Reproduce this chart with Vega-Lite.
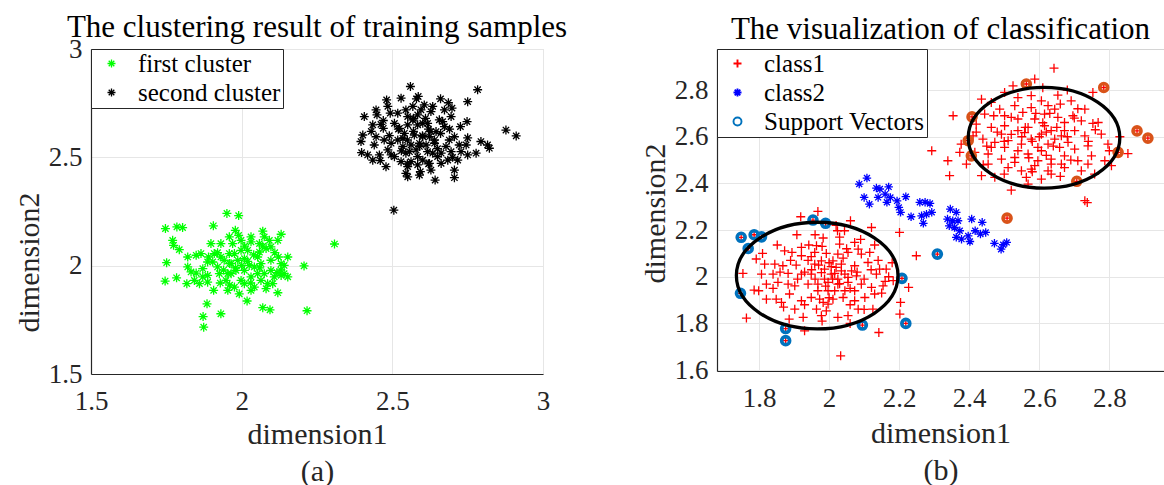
{
  "$schema": "https://vega.github.io/schema/vega-lite/v6.json",
  "padding": {"left": 13, "top": 11, "right": 0, "bottom": 0},
  "bounds": "flush",
  "spacing": 174,
  "resolve": {
    "scale": {"color": "independent", "shape": "independent", "x": "independent", "y": "independent"},
    "legend": {"color": "independent", "shape": "independent"}
  },
  "config": {
    "font": "Liberation Serif",
    "view": {"stroke": "#d4d4d4"},
    "title": {"font": "Liberation Serif", "fontSize": 31, "fontWeight": "normal", "color": "#000000", "anchor": "middle"},
    "axis": {
      "labelFont": "Liberation Serif", "labelFontSize": 27, "labelColor": "#262626",
      "titleFont": "Liberation Serif", "titleFontSize": 30, "titleFontWeight": "normal", "titleColor": "#262626",
      "grid": true, "gridColor": "#e6e6e6", "gridWidth": 1,
      "domainColor": "#262626", "domainWidth": 1.2,
      "ticks": false, "labelFlush": false, "labelOverlap": false, "format": "~g"
    },
    "axisX": {"labelPadding": 14, "titleBaseline": "top", "titleLineHeight": 37, "titleAlign": "center"},
    "axisY": {"labelPadding": 9, "titleBaseline": "middle", "titleAngle": 270, "titleAlign": "center"},
    "legend": {
      "orient": "top-left", "offset": 0, "padding": 2, "rowPadding": 3,
      "strokeColor": "#262626", "fillColor": "#ffffff",
      "labelFont": "Liberation Serif", "labelFontSize": 25, "labelColor": "#000000", "labelLimit": 400,
      "symbolOffset": 6, "labelOffset": 14, "symbolSize": 64, "symbolStrokeWidth": 1.3
    }
  },
  "hconcat": [
    {
      "width": 452,
      "height": 325,
      "title": {"text": "The clustering result of training samples", "offset": -9},
      "data": {"values": [
        {"cluster": "first cluster", "x": 1.951, "y": 2.241}, {"cluster": "first cluster", "x": 1.990, "y": 2.231},
        {"cluster": "first cluster", "x": 1.747, "y": 2.171}, {"cluster": "first cluster", "x": 1.785, "y": 2.179},
        {"cluster": "first cluster", "x": 1.804, "y": 2.176}, {"cluster": "first cluster", "x": 1.906, "y": 2.184},
        {"cluster": "first cluster", "x": 1.979, "y": 2.163}, {"cluster": "first cluster", "x": 1.959, "y": 2.133},
        {"cluster": "first cluster", "x": 2.070, "y": 2.159}, {"cluster": "first cluster", "x": 2.131, "y": 2.145},
        {"cluster": "first cluster", "x": 2.308, "y": 2.100}, {"cluster": "first cluster", "x": 1.771, "y": 2.117},
        {"cluster": "first cluster", "x": 1.774, "y": 2.094}, {"cluster": "first cluster", "x": 1.793, "y": 2.074},
        {"cluster": "first cluster", "x": 1.751, "y": 2.014}, {"cluster": "first cluster", "x": 1.746, "y": 1.929},
        {"cluster": "first cluster", "x": 1.784, "y": 1.944}, {"cluster": "first cluster", "x": 1.818, "y": 1.917},
        {"cluster": "first cluster", "x": 2.207, "y": 1.999}, {"cluster": "first cluster", "x": 2.120, "y": 1.875},
        {"cluster": "first cluster", "x": 2.018, "y": 1.837}, {"cluster": "first cluster", "x": 2.070, "y": 1.806},
        {"cluster": "first cluster", "x": 2.094, "y": 1.796}, {"cluster": "first cluster", "x": 2.217, "y": 1.792},
        {"cluster": "first cluster", "x": 1.885, "y": 1.824}, {"cluster": "first cluster", "x": 1.931, "y": 1.778},
        {"cluster": "first cluster", "x": 1.872, "y": 1.765}, {"cluster": "first cluster", "x": 1.874, "y": 1.716},
        {"cluster": "first cluster", "x": 1.821, "y": 2.040}, {"cluster": "first cluster", "x": 1.849, "y": 2.048},
        {"cluster": "first cluster", "x": 1.865, "y": 2.056}, {"cluster": "first cluster", "x": 1.821, "y": 1.994},
        {"cluster": "first cluster", "x": 1.849, "y": 1.966}, {"cluster": "first cluster", "x": 1.887, "y": 1.955},
        {"cluster": "first cluster", "x": 1.907, "y": 1.886}, {"cluster": "first cluster", "x": 1.887, "y": 1.924},
        {"cluster": "first cluster", "x": 1.929, "y": 1.920}, {"cluster": "first cluster", "x": 1.954, "y": 1.886},
        {"cluster": "first cluster", "x": 1.992, "y": 1.870}, {"cluster": "first cluster", "x": 2.031, "y": 1.886},
        {"cluster": "first cluster", "x": 2.081, "y": 1.894}, {"cluster": "first cluster", "x": 2.153, "y": 2.040},
        {"cluster": "first cluster", "x": 2.141, "y": 1.963}, {"cluster": "first cluster", "x": 2.122, "y": 2.040},
        {"cluster": "first cluster", "x": 2.120, "y": 2.117}, {"cluster": "first cluster", "x": 2.097, "y": 2.087},
        {"cluster": "first cluster", "x": 2.031, "y": 2.133}, {"cluster": "first cluster", "x": 2.059, "y": 2.102},
        {"cluster": "first cluster", "x": 1.898, "y": 2.102}, {"cluster": "first cluster", "x": 1.909, "y": 2.056},
        {"cluster": "first cluster", "x": 1.920, "y": 1.994}, {"cluster": "first cluster", "x": 1.954, "y": 1.963},
        {"cluster": "first cluster", "x": 1.987, "y": 2.025}, {"cluster": "first cluster", "x": 2.009, "y": 1.978},
        {"cluster": "first cluster", "x": 2.042, "y": 1.994}, {"cluster": "first cluster", "x": 2.075, "y": 1.963},
        {"cluster": "first cluster", "x": 2.097, "y": 1.978}, {"cluster": "first cluster", "x": 1.998, "y": 2.071},
        {"cluster": "first cluster", "x": 2.020, "y": 2.071}, {"cluster": "first cluster", "x": 2.053, "y": 2.040},
        {"cluster": "first cluster", "x": 1.976, "y": 2.056}, {"cluster": "first cluster", "x": 1.942, "y": 2.025},
        {"cluster": "first cluster", "x": 1.965, "y": 2.009}, {"cluster": "first cluster", "x": 2.031, "y": 1.948},
        {"cluster": "first cluster", "x": 2.064, "y": 1.932}, {"cluster": "first cluster", "x": 1.998, "y": 1.932},
        {"cluster": "first cluster", "x": 1.976, "y": 1.901}, {"cluster": "first cluster", "x": 2.086, "y": 1.917},
        {"cluster": "first cluster", "x": 2.131, "y": 2.009}, {"cluster": "first cluster", "x": 2.108, "y": 1.948},
        {"cluster": "first cluster", "x": 2.141, "y": 2.001}, {"cluster": "first cluster", "x": 1.832, "y": 1.971},
        {"cluster": "first cluster", "x": 1.871, "y": 1.986}, {"cluster": "first cluster", "x": 1.887, "y": 2.017},
        {"cluster": "first cluster", "x": 1.931, "y": 2.102}, {"cluster": "first cluster", "x": 2.031, "y": 2.110},
        {"cluster": "first cluster", "x": 2.075, "y": 2.133}, {"cluster": "first cluster", "x": 2.092, "y": 2.117},
        {"cluster": "first cluster", "x": 1.998, "y": 2.117}, {"cluster": "first cluster", "x": 1.970, "y": 2.102},
        {"cluster": "first cluster", "x": 2.059, "y": 2.063}, {"cluster": "first cluster", "x": 2.009, "y": 2.032},
        {"cluster": "first cluster", "x": 2.064, "y": 2.009}, {"cluster": "first cluster", "x": 2.025, "y": 2.001},
        {"cluster": "first cluster", "x": 1.981, "y": 1.978}, {"cluster": "first cluster", "x": 1.948, "y": 1.932},
        {"cluster": "first cluster", "x": 2.009, "y": 1.917}, {"cluster": "first cluster", "x": 2.053, "y": 1.963},
        {"cluster": "first cluster", "x": 2.042, "y": 1.901}, {"cluster": "first cluster", "x": 1.965, "y": 1.963},
        {"cluster": "first cluster", "x": 1.926, "y": 1.963}, {"cluster": "first cluster", "x": 1.871, "y": 1.948},
        {"cluster": "first cluster", "x": 1.843, "y": 1.932}, {"cluster": "first cluster", "x": 1.860, "y": 1.917},
        {"cluster": "first cluster", "x": 1.904, "y": 2.017}, {"cluster": "first cluster", "x": 1.959, "y": 2.056},
        {"cluster": "first cluster", "x": 1.931, "y": 2.040}, {"cluster": "first cluster", "x": 2.097, "y": 2.025},
        {"cluster": "first cluster", "x": 2.081, "y": 2.079}, {"cluster": "first cluster", "x": 2.117, "y": 1.968},
        {"cluster": "first cluster", "x": 2.103, "y": 1.917}, {"cluster": "first cluster", "x": 2.131, "y": 1.955},
        {"cluster": "first cluster", "x": 2.153, "y": 1.948},
        {"cluster": "first cluster", "x": 2.000, "y": 2.000}, {"cluster": "first cluster", "x": 2.020, "y": 2.020},
        {"cluster": "first cluster", "x": 1.980, "y": 1.990}, {"cluster": "first cluster", "x": 2.040, "y": 2.050},
        {"cluster": "first cluster", "x": 2.060, "y": 1.990}, {"cluster": "first cluster", "x": 1.960, "y": 2.010},
        {"cluster": "first cluster", "x": 2.010, "y": 2.090}, {"cluster": "first cluster", "x": 1.940, "y": 1.980},
        {"cluster": "first cluster", "x": 2.110, "y": 2.060}, {"cluster": "first cluster", "x": 2.070, "y": 2.090},
        {"cluster": "first cluster", "x": 1.920, "y": 2.060}, {"cluster": "first cluster", "x": 2.030, "y": 1.920},
        {"cluster": "first cluster", "x": 1.990, "y": 2.140}, {"cluster": "first cluster", "x": 2.130, "y": 1.980},
        {"cluster": "first cluster", "x": 1.890, "y": 2.040}, {"cluster": "first cluster", "x": 1.960, "y": 1.910},
        {"cluster": "second cluster", "x": 2.560, "y": 2.827}, {"cluster": "second cluster", "x": 2.783, "y": 2.812},
        {"cluster": "second cluster", "x": 2.481, "y": 2.765}, {"cluster": "second cluster", "x": 2.750, "y": 2.757},
        {"cluster": "second cluster", "x": 2.529, "y": 2.773}, {"cluster": "second cluster", "x": 2.586, "y": 2.781},
        {"cluster": "second cluster", "x": 2.446, "y": 2.719}, {"cluster": "second cluster", "x": 2.449, "y": 2.696},
        {"cluster": "second cluster", "x": 2.407, "y": 2.688}, {"cluster": "second cluster", "x": 2.493, "y": 2.704},
        {"cluster": "second cluster", "x": 2.551, "y": 2.688}, {"cluster": "second cluster", "x": 2.584, "y": 2.696},
        {"cluster": "second cluster", "x": 2.628, "y": 2.711}, {"cluster": "second cluster", "x": 2.686, "y": 2.752},
        {"cluster": "second cluster", "x": 2.698, "y": 2.727}, {"cluster": "second cluster", "x": 2.695, "y": 2.688},
        {"cluster": "second cluster", "x": 2.748, "y": 2.665}, {"cluster": "second cluster", "x": 2.726, "y": 2.642},
        {"cluster": "second cluster", "x": 2.667, "y": 2.665}, {"cluster": "second cluster", "x": 2.435, "y": 2.650},
        {"cluster": "second cluster", "x": 2.470, "y": 2.634}, {"cluster": "second cluster", "x": 2.507, "y": 2.657},
        {"cluster": "second cluster", "x": 2.551, "y": 2.650}, {"cluster": "second cluster", "x": 2.601, "y": 2.657},
        {"cluster": "second cluster", "x": 2.645, "y": 2.619}, {"cluster": "second cluster", "x": 2.877, "y": 2.626},
        {"cluster": "second cluster", "x": 2.911, "y": 2.599}, {"cluster": "second cluster", "x": 2.402, "y": 2.603},
        {"cluster": "second cluster", "x": 2.396, "y": 2.573}, {"cluster": "second cluster", "x": 2.440, "y": 2.557},
        {"cluster": "second cluster", "x": 2.398, "y": 2.522}, {"cluster": "second cluster", "x": 2.418, "y": 2.511},
        {"cluster": "second cluster", "x": 2.457, "y": 2.511}, {"cluster": "second cluster", "x": 2.460, "y": 2.485},
        {"cluster": "second cluster", "x": 2.485, "y": 2.534}, {"cluster": "second cluster", "x": 2.479, "y": 2.457},
        {"cluster": "second cluster", "x": 2.518, "y": 2.580}, {"cluster": "second cluster", "x": 2.540, "y": 2.611},
        {"cluster": "second cluster", "x": 2.573, "y": 2.603}, {"cluster": "second cluster", "x": 2.601, "y": 2.595},
        {"cluster": "second cluster", "x": 2.628, "y": 2.619}, {"cluster": "second cluster", "x": 2.507, "y": 2.503},
        {"cluster": "second cluster", "x": 2.545, "y": 2.519}, {"cluster": "second cluster", "x": 2.584, "y": 2.503},
        {"cluster": "second cluster", "x": 2.601, "y": 2.487}, {"cluster": "second cluster", "x": 2.551, "y": 2.457},
        {"cluster": "second cluster", "x": 2.545, "y": 2.426}, {"cluster": "second cluster", "x": 2.593, "y": 2.434},
        {"cluster": "second cluster", "x": 2.628, "y": 2.441}, {"cluster": "second cluster", "x": 2.642, "y": 2.395},
        {"cluster": "second cluster", "x": 2.706, "y": 2.441}, {"cluster": "second cluster", "x": 2.706, "y": 2.406},
        {"cluster": "second cluster", "x": 2.662, "y": 2.519}, {"cluster": "second cluster", "x": 2.678, "y": 2.550},
        {"cluster": "second cluster", "x": 2.684, "y": 2.487}, {"cluster": "second cluster", "x": 2.717, "y": 2.487},
        {"cluster": "second cluster", "x": 2.722, "y": 2.557}, {"cluster": "second cluster", "x": 2.745, "y": 2.557},
        {"cluster": "second cluster", "x": 2.750, "y": 2.511}, {"cluster": "second cluster", "x": 2.778, "y": 2.519},
        {"cluster": "second cluster", "x": 2.794, "y": 2.573}, {"cluster": "second cluster", "x": 2.822, "y": 2.542},
        {"cluster": "second cluster", "x": 2.816, "y": 2.557}, {"cluster": "second cluster", "x": 2.505, "y": 2.256},
        {"cluster": "second cluster", "x": 2.518, "y": 2.704}, {"cluster": "second cluster", "x": 2.568, "y": 2.735},
        {"cluster": "second cluster", "x": 2.606, "y": 2.742}, {"cluster": "second cluster", "x": 2.634, "y": 2.735},
        {"cluster": "second cluster", "x": 2.524, "y": 2.634}, {"cluster": "second cluster", "x": 2.568, "y": 2.673},
        {"cluster": "second cluster", "x": 2.584, "y": 2.650}, {"cluster": "second cluster", "x": 2.617, "y": 2.657},
        {"cluster": "second cluster", "x": 2.656, "y": 2.673}, {"cluster": "second cluster", "x": 2.673, "y": 2.642},
        {"cluster": "second cluster", "x": 2.612, "y": 2.557}, {"cluster": "second cluster", "x": 2.640, "y": 2.565},
        {"cluster": "second cluster", "x": 2.590, "y": 2.565}, {"cluster": "second cluster", "x": 2.562, "y": 2.557},
        {"cluster": "second cluster", "x": 2.535, "y": 2.550}, {"cluster": "second cluster", "x": 2.496, "y": 2.565},
        {"cluster": "second cluster", "x": 2.473, "y": 2.580}, {"cluster": "second cluster", "x": 2.446, "y": 2.595},
        {"cluster": "second cluster", "x": 2.562, "y": 2.480}, {"cluster": "second cluster", "x": 2.617, "y": 2.526},
        {"cluster": "second cluster", "x": 2.650, "y": 2.503}, {"cluster": "second cluster", "x": 2.662, "y": 2.472},
        {"cluster": "second cluster", "x": 2.695, "y": 2.526}, {"cluster": "second cluster", "x": 2.728, "y": 2.526},
        {"cluster": "second cluster", "x": 2.584, "y": 2.465}, {"cluster": "second cluster", "x": 2.529, "y": 2.480},
        {"cluster": "second cluster", "x": 2.496, "y": 2.511}, {"cluster": "second cluster", "x": 2.623, "y": 2.472},
        {"cluster": "second cluster", "x": 2.551, "y": 2.410}, {"cluster": "second cluster", "x": 2.590, "y": 2.418},
        {"cluster": "second cluster", "x": 2.535, "y": 2.588}, {"cluster": "second cluster", "x": 2.623, "y": 2.595},
        {"cluster": "second cluster", "x": 2.579, "y": 2.534}, {"cluster": "second cluster", "x": 2.557, "y": 2.526},
        {"cluster": "second cluster", "x": 2.634, "y": 2.519}, {"cluster": "second cluster", "x": 2.689, "y": 2.580},
        {"cluster": "second cluster", "x": 2.706, "y": 2.595}, {"cluster": "second cluster", "x": 2.462, "y": 2.652},
        {"cluster": "second cluster", "x": 2.485, "y": 2.735}, {"cluster": "second cluster", "x": 2.673, "y": 2.719},
        {"cluster": "second cluster", "x": 2.595, "y": 2.719}, {"cluster": "second cluster", "x": 2.545, "y": 2.719},
        {"cluster": "second cluster", "x": 2.435, "y": 2.487},
        {"cluster": "second cluster", "x": 2.600, "y": 2.600}, {"cluster": "second cluster", "x": 2.620, "y": 2.630},
        {"cluster": "second cluster", "x": 2.570, "y": 2.620}, {"cluster": "second cluster", "x": 2.640, "y": 2.580},
        {"cluster": "second cluster", "x": 2.550, "y": 2.580}, {"cluster": "second cluster", "x": 2.590, "y": 2.550},
        {"cluster": "second cluster", "x": 2.660, "y": 2.610}, {"cluster": "second cluster", "x": 2.520, "y": 2.630},
        {"cluster": "second cluster", "x": 2.610, "y": 2.680}, {"cluster": "second cluster", "x": 2.570, "y": 2.680},
        {"cluster": "second cluster", "x": 2.690, "y": 2.630}, {"cluster": "second cluster", "x": 2.650, "y": 2.540},
        {"cluster": "second cluster", "x": 2.530, "y": 2.530}, {"cluster": "second cluster", "x": 2.490, "y": 2.600},
        {"cluster": "second cluster", "x": 2.470, "y": 2.670}, {"cluster": "second cluster", "x": 2.620, "y": 2.470},
        {"cluster": "second cluster", "x": 2.700, "y": 2.500}, {"cluster": "second cluster", "x": 2.750, "y": 2.590},
        {"cluster": "second cluster", "x": 2.580, "y": 2.770}, {"cluster": "second cluster", "x": 2.660, "y": 2.770},
        {"cluster": "second cluster", "x": 2.430, "y": 2.620}, {"cluster": "second cluster", "x": 2.550, "y": 2.470}
      ]},
      "mark": {"type": "point", "filled": false, "strokeWidth": 1.3, "size": 81, "opacity": 1},
      "encoding": {
        "x": {"field": "x", "type": "quantitative",
              "scale": {"domain": [1.5, 3], "nice": false, "zero": false},
              "axis": {"values": [1.5, 2, 2.5, 3], "format": "~g", "labelFont": "Liberation Serif", "labelFontSize": 27,
                       "title": ["dimension1", "(a)"], "titleY": 45}},
        "y": {"field": "y", "type": "quantitative",
              "scale": {"domain": [1.5, 3], "nice": false, "zero": false},
              "axis": {"values": [1.5, 2, 2.5, 3], "format": "~g", "labelFont": "Liberation Serif", "labelFontSize": 27,
                       "title": "dimension2", "titleX": -62, "titleY": 213}},
        "color": {"field": "cluster", "type": "nominal",
                  "scale": {"domain": ["first cluster", "second cluster"], "range": ["#00ff00", "#000000"]},
                  "legend": {"title": null}},
        "shape": {"field": "cluster", "type": "nominal",
                  "scale": {"domain": ["first cluster", "second cluster"],
                            "range": ["M0,-1L0,1M-1,0L1,0M-0.7,-0.7L0.7,0.7M-0.7,0.7L0.7,-0.7", "M0,-1L0,1M-1,0L1,0M-0.7,-0.7L0.7,0.7M-0.7,0.7L0.7,-0.7"]},
                  "legend": {"title": null}}
      }
    },
    {
      "width": 447,
      "height": 322,
      "title": {"text": "The visualization of classification", "offset": 3},
      "layer": [
        {
          "data": {"values": [
            {"series": "class1", "x": 1.968, "y": 2.280}, {"series": "class1", "x": 1.919, "y": 2.257},
            {"series": "class1", "x": 2.061, "y": 2.240}, {"series": "class1", "x": 2.121, "y": 2.211},
            {"series": "class1", "x": 2.201, "y": 2.190}, {"series": "class1", "x": 2.024, "y": 2.197},
            {"series": "class1", "x": 2.044, "y": 2.197}, {"series": "class1", "x": 1.908, "y": 2.180},
            {"series": "class1", "x": 1.983, "y": 2.166}, {"series": "class1", "x": 1.852, "y": 2.136},
            {"series": "class1", "x": 1.942, "y": 2.136}, {"series": "class1", "x": 1.964, "y": 2.133},
            {"series": "class1", "x": 2.030, "y": 2.140}, {"series": "class1", "x": 2.073, "y": 2.147},
            {"series": "class1", "x": 2.130, "y": 2.136}, {"series": "class1", "x": 2.249, "y": 2.090},
            {"series": "class1", "x": 1.894, "y": 2.104}, {"series": "class1", "x": 1.921, "y": 2.090},
            {"series": "class1", "x": 1.949, "y": 2.086}, {"series": "class1", "x": 1.992, "y": 2.100},
            {"series": "class1", "x": 2.025, "y": 2.097}, {"series": "class1", "x": 2.054, "y": 2.104},
            {"series": "class1", "x": 2.092, "y": 2.097}, {"series": "class1", "x": 2.116, "y": 2.104},
            {"series": "class1", "x": 1.792, "y": 2.076}, {"series": "class1", "x": 1.816, "y": 2.054},
            {"series": "class1", "x": 1.845, "y": 2.054}, {"series": "class1", "x": 1.868, "y": 2.047},
            {"series": "class1", "x": 1.906, "y": 2.050}, {"series": "class1", "x": 1.959, "y": 2.054},
            {"series": "class1", "x": 2.006, "y": 2.043}, {"series": "class1", "x": 2.035, "y": 2.054},
            {"series": "class1", "x": 2.073, "y": 2.047}, {"series": "class1", "x": 2.111, "y": 2.061},
            {"series": "class1", "x": 2.144, "y": 2.033}, {"series": "class1", "x": 2.163, "y": 2.033},
            {"series": "class1", "x": 1.754, "y": 2.014}, {"series": "class1", "x": 1.807, "y": 2.011},
            {"series": "class1", "x": 1.840, "y": 2.011}, {"series": "class1", "x": 1.883, "y": 2.014},
            {"series": "class1", "x": 1.921, "y": 2.011}, {"series": "class1", "x": 1.949, "y": 2.011},
            {"series": "class1", "x": 1.978, "y": 2.018}, {"series": "class1", "x": 2.016, "y": 2.014},
            {"series": "class1", "x": 2.045, "y": 2.011}, {"series": "class1", "x": 2.078, "y": 2.004},
            {"series": "class1", "x": 2.135, "y": 2.011}, {"series": "class1", "x": 2.183, "y": 1.983},
            {"series": "class1", "x": 1.786, "y": 1.943}, {"series": "class1", "x": 1.799, "y": 1.940},
            {"series": "class1", "x": 1.821, "y": 1.968}, {"series": "class1", "x": 1.854, "y": 1.976},
            {"series": "class1", "x": 1.883, "y": 1.968}, {"series": "class1", "x": 1.902, "y": 1.961},
            {"series": "class1", "x": 1.940, "y": 1.968}, {"series": "class1", "x": 1.968, "y": 1.968},
            {"series": "class1", "x": 1.997, "y": 1.976}, {"series": "class1", "x": 2.025, "y": 1.968},
            {"series": "class1", "x": 2.054, "y": 1.976}, {"series": "class1", "x": 2.092, "y": 1.968},
            {"series": "class1", "x": 2.121, "y": 1.954}, {"series": "class1", "x": 2.154, "y": 1.961},
            {"series": "class1", "x": 2.227, "y": 1.954}, {"series": "class1", "x": 1.821, "y": 1.904},
            {"series": "class1", "x": 1.849, "y": 1.904}, {"series": "class1", "x": 1.887, "y": 1.926},
            {"series": "class1", "x": 1.921, "y": 1.897}, {"series": "class1", "x": 1.949, "y": 1.911},
            {"series": "class1", "x": 1.983, "y": 1.890}, {"series": "class1", "x": 2.011, "y": 1.904},
            {"series": "class1", "x": 2.040, "y": 1.911}, {"series": "class1", "x": 2.073, "y": 1.897},
            {"series": "class1", "x": 2.102, "y": 1.911}, {"series": "class1", "x": 2.130, "y": 1.926},
            {"series": "class1", "x": 2.204, "y": 1.890}, {"series": "class1", "x": 1.764, "y": 1.823},
            {"series": "class1", "x": 1.886, "y": 1.818}, {"series": "class1", "x": 1.926, "y": 1.826},
            {"series": "class1", "x": 1.978, "y": 1.833}, {"series": "class1", "x": 2.025, "y": 1.826},
            {"series": "class1", "x": 2.054, "y": 1.833}, {"series": "class1", "x": 2.083, "y": 1.861},
            {"series": "class1", "x": 2.125, "y": 1.861}, {"series": "class1", "x": 2.202, "y": 1.840},
            {"series": "class1", "x": 1.930, "y": 1.768}, {"series": "class1", "x": 2.142, "y": 1.761},
            {"series": "class1", "x": 2.033, "y": 1.661}, {"series": "class1", "x": 1.992, "y": 1.854},
            {"series": "class1", "x": 1.964, "y": 1.861}, {"series": "class1", "x": 1.902, "y": 1.861},
            {"series": "class1", "x": 1.864, "y": 1.890}, {"series": "class1", "x": 2.011, "y": 2.068},
            {"series": "class1", "x": 1.978, "y": 2.068}, {"series": "class1", "x": 1.987, "y": 1.990},
            {"series": "class1", "x": 2.016, "y": 1.940}, {"series": "class1", "x": 2.045, "y": 1.940},
            {"series": "class1", "x": 2.073, "y": 1.940}, {"series": "class1", "x": 1.997, "y": 1.940},
            {"series": "class1", "x": 1.968, "y": 1.940}, {"series": "class1", "x": 2.025, "y": 1.990},
            {"series": "class1", "x": 2.054, "y": 1.997}, {"series": "class1", "x": 2.006, "y": 2.011},
            {"series": "class1", "x": 1.987, "y": 2.033}, {"series": "class1", "x": 2.035, "y": 2.025},
            {"series": "class1", "x": 2.064, "y": 2.025}, {"series": "class1", "x": 1.973, "y": 1.904},
            {"series": "class1", "x": 1.997, "y": 1.883}, {"series": "class1", "x": 2.083, "y": 2.118},
            {"series": "class1", "x": 1.921, "y": 2.126}, {"series": "class1", "x": 1.873, "y": 2.111},
            {"series": "class1", "x": 1.959, "y": 2.104},
            {"series": "class1", "x": 1.950, "y": 2.030}, {"series": "class1", "x": 1.970, "y": 2.050},
            {"series": "class1", "x": 2.000, "y": 2.060}, {"series": "class1", "x": 2.020, "y": 2.040},
            {"series": "class1", "x": 2.040, "y": 2.080}, {"series": "class1", "x": 2.010, "y": 1.990},
            {"series": "class1", "x": 2.030, "y": 1.970}, {"series": "class1", "x": 2.060, "y": 1.950},
            {"series": "class1", "x": 1.990, "y": 1.960}, {"series": "class1", "x": 1.960, "y": 1.990},
            {"series": "class1", "x": 1.930, "y": 2.020}, {"series": "class1", "x": 1.910, "y": 1.990},
            {"series": "class1", "x": 2.080, "y": 2.020}, {"series": "class1", "x": 2.100, "y": 1.990},
            {"series": "class1", "x": 2.120, "y": 2.030}, {"series": "class1", "x": 2.050, "y": 2.120},
            {"series": "class1", "x": 1.980, "y": 2.130}, {"series": "class1", "x": 1.940, "y": 2.070},
            {"series": "class1", "x": 1.890, "y": 2.070}, {"series": "class1", "x": 1.860, "y": 2.020},
            {"series": "class1", "x": 1.840, "y": 1.950}, {"series": "class1", "x": 1.870, "y": 1.870},
            {"series": "class1", "x": 1.930, "y": 1.880}, {"series": "class1", "x": 2.000, "y": 1.910},
            {"series": "class1", "x": 2.060, "y": 1.880}, {"series": "class1", "x": 2.100, "y": 1.860},
            {"series": "class1", "x": 2.150, "y": 1.930}, {"series": "class1", "x": 2.170, "y": 2.000},
            {"series": "class1", "x": 2.140, "y": 2.070}, {"series": "class1", "x": 2.180, "y": 2.060},
            {"series": "class1", "x": 1.810, "y": 2.100}, {"series": "class1", "x": 1.960, "y": 2.180},
            {"series": "class1", "x": 2.030, "y": 2.170}, {"series": "class1", "x": 2.090, "y": 2.160},
            {"series": "class1", "x": 1.980, "y": 1.810}, {"series": "class1", "x": 2.060, "y": 1.800},
            {"series": "class1", "x": 2.160, "y": 1.980}, {"series": "class1", "x": 2.020, "y": 2.220},
            {"series": "class1", "x": 1.749, "y": 2.169}, {"series": "class1", "x": 1.786, "y": 2.180},
            {"series": "class1", "x": 1.807, "y": 2.171}, {"series": "class1", "x": 1.769, "y": 2.121},
            {"series": "class1", "x": 1.954, "y": 2.243}, {"series": "class1", "x": 1.990, "y": 2.229},
            {"series": "class1", "x": 1.747, "y": 1.929}, {"series": "class1", "x": 2.208, "y": 1.993},
            {"series": "class1", "x": 2.309, "y": 2.097}, {"series": "class1", "x": 2.095, "y": 1.793},
            {"series": "class1", "x": 2.219, "y": 1.800}, {"series": "class1", "x": 1.876, "y": 1.778},
            {"series": "class1", "x": 1.876, "y": 1.726},
            {"series": "class1", "x": 2.642, "y": 2.894}, {"series": "class1", "x": 2.587, "y": 2.847},
            {"series": "class1", "x": 2.501, "y": 2.790}, {"series": "class1", "x": 2.653, "y": 2.778},
            {"series": "class1", "x": 2.525, "y": 2.818}, {"series": "class1", "x": 2.753, "y": 2.790},
            {"series": "class1", "x": 2.354, "y": 2.690}, {"series": "class1", "x": 2.435, "y": 2.761},
            {"series": "class1", "x": 2.463, "y": 2.747}, {"series": "class1", "x": 2.539, "y": 2.768},
            {"series": "class1", "x": 2.577, "y": 2.776}, {"series": "class1", "x": 2.606, "y": 2.754},
            {"series": "class1", "x": 2.625, "y": 2.733}, {"series": "class1", "x": 2.691, "y": 2.754},
            {"series": "class1", "x": 2.730, "y": 2.718}, {"series": "class1", "x": 2.444, "y": 2.697},
            {"series": "class1", "x": 2.487, "y": 2.718}, {"series": "class1", "x": 2.520, "y": 2.683},
            {"series": "class1", "x": 2.553, "y": 2.704}, {"series": "class1", "x": 2.587, "y": 2.676},
            {"series": "class1", "x": 2.615, "y": 2.697}, {"series": "class1", "x": 2.653, "y": 2.683},
            {"series": "class1", "x": 2.672, "y": 2.661}, {"series": "class1", "x": 2.696, "y": 2.690},
            {"series": "class1", "x": 2.768, "y": 2.661}, {"series": "class1", "x": 2.753, "y": 2.657},
            {"series": "class1", "x": 2.420, "y": 2.654}, {"series": "class1", "x": 2.463, "y": 2.640},
            {"series": "class1", "x": 2.501, "y": 2.647}, {"series": "class1", "x": 2.539, "y": 2.626},
            {"series": "class1", "x": 2.568, "y": 2.640}, {"series": "class1", "x": 2.606, "y": 2.611},
            {"series": "class1", "x": 2.634, "y": 2.626}, {"series": "class1", "x": 2.663, "y": 2.604},
            {"series": "class1", "x": 2.701, "y": 2.626}, {"series": "class1", "x": 2.730, "y": 2.604},
            {"series": "class1", "x": 2.777, "y": 2.611}, {"series": "class1", "x": 2.439, "y": 2.590},
            {"series": "class1", "x": 2.473, "y": 2.576}, {"series": "class1", "x": 2.511, "y": 2.583},
            {"series": "class1", "x": 2.549, "y": 2.568}, {"series": "class1", "x": 2.577, "y": 2.590},
            {"series": "class1", "x": 2.625, "y": 2.568}, {"series": "class1", "x": 2.658, "y": 2.554},
            {"series": "class1", "x": 2.682, "y": 2.576}, {"series": "class1", "x": 2.739, "y": 2.561},
            {"series": "class1", "x": 2.796, "y": 2.568}, {"series": "class1", "x": 2.377, "y": 2.568},
            {"series": "class1", "x": 2.373, "y": 2.533}, {"series": "class1", "x": 2.853, "y": 2.528},
            {"series": "class1", "x": 2.454, "y": 2.526}, {"series": "class1", "x": 2.492, "y": 2.504},
            {"series": "class1", "x": 2.530, "y": 2.511}, {"series": "class1", "x": 2.568, "y": 2.526},
            {"series": "class1", "x": 2.596, "y": 2.497}, {"series": "class1", "x": 2.634, "y": 2.504},
            {"series": "class1", "x": 2.672, "y": 2.518}, {"series": "class1", "x": 2.710, "y": 2.497},
            {"series": "class1", "x": 2.749, "y": 2.518}, {"series": "class1", "x": 2.787, "y": 2.497},
            {"series": "class1", "x": 2.339, "y": 2.497}, {"series": "class1", "x": 2.454, "y": 2.483},
            {"series": "class1", "x": 2.511, "y": 2.468}, {"series": "class1", "x": 2.549, "y": 2.454},
            {"series": "class1", "x": 2.587, "y": 2.476}, {"series": "class1", "x": 2.625, "y": 2.454},
            {"series": "class1", "x": 2.672, "y": 2.468}, {"series": "class1", "x": 2.720, "y": 2.454},
            {"series": "class1", "x": 2.806, "y": 2.476}, {"series": "class1", "x": 2.344, "y": 2.433},
            {"series": "class1", "x": 2.392, "y": 2.483}, {"series": "class1", "x": 2.435, "y": 2.433},
            {"series": "class1", "x": 2.563, "y": 2.426}, {"series": "class1", "x": 2.606, "y": 2.418},
            {"series": "class1", "x": 2.634, "y": 2.440}, {"series": "class1", "x": 2.520, "y": 2.371},
            {"series": "class1", "x": 2.730, "y": 2.326}, {"series": "class1", "x": 2.737, "y": 2.318},
            {"series": "class1", "x": 2.568, "y": 2.397}, {"series": "class1", "x": 2.473, "y": 2.426},
            {"series": "class1", "x": 2.501, "y": 2.554}, {"series": "class1", "x": 2.539, "y": 2.540},
            {"series": "class1", "x": 2.606, "y": 2.540}, {"series": "class1", "x": 2.644, "y": 2.590},
            {"series": "class1", "x": 2.701, "y": 2.547}, {"series": "class1", "x": 2.558, "y": 2.618},
            {"series": "class1", "x": 2.492, "y": 2.611}, {"series": "class1", "x": 2.463, "y": 2.554},
            {"series": "class1", "x": 2.615, "y": 2.647}, {"series": "class1", "x": 2.577, "y": 2.725},
            {"series": "class1", "x": 2.530, "y": 2.733}, {"series": "class1", "x": 2.644, "y": 2.718},
            {"series": "class1", "x": 2.720, "y": 2.668}, {"series": "class1", "x": 2.739, "y": 2.483},
            {"series": "class1", "x": 2.758, "y": 2.440}, {"series": "class1", "x": 2.416, "y": 2.533},
            {"series": "class1", "x": 2.411, "y": 2.604}, {"series": "class1", "x": 2.501, "y": 2.690},
            {"series": "class1", "x": 2.539, "y": 2.676}, {"series": "class1", "x": 2.672, "y": 2.626},
            {"series": "class1", "x": 2.596, "y": 2.554}, {"series": "class1", "x": 2.634, "y": 2.483},
            {"series": "class1", "x": 2.663, "y": 2.483}, {"series": "class1", "x": 2.577, "y": 2.461},
            {"series": "class1", "x": 2.293, "y": 2.540},
            {"series": "class1", "x": 2.600, "y": 2.600}, {"series": "class1", "x": 2.620, "y": 2.620},
            {"series": "class1", "x": 2.580, "y": 2.580}, {"series": "class1", "x": 2.640, "y": 2.560},
            {"series": "class1", "x": 2.560, "y": 2.640}, {"series": "class1", "x": 2.610, "y": 2.660},
            {"series": "class1", "x": 2.650, "y": 2.640}, {"series": "class1", "x": 2.680, "y": 2.600},
            {"series": "class1", "x": 2.550, "y": 2.600}, {"series": "class1", "x": 2.520, "y": 2.610},
            {"series": "class1", "x": 2.500, "y": 2.580}, {"series": "class1", "x": 2.480, "y": 2.620},
            {"series": "class1", "x": 2.590, "y": 2.700}, {"series": "class1", "x": 2.630, "y": 2.700},
            {"series": "class1", "x": 2.700, "y": 2.680}, {"series": "class1", "x": 2.660, "y": 2.740},
            {"series": "class1", "x": 2.620, "y": 2.520}, {"series": "class1", "x": 2.570, "y": 2.510},
            {"series": "class1", "x": 2.530, "y": 2.490}, {"series": "class1", "x": 2.690, "y": 2.500},
            {"series": "class1", "x": 2.740, "y": 2.580}, {"series": "class1", "x": 2.760, "y": 2.630},
            {"series": "class1", "x": 2.710, "y": 2.720}, {"series": "class1", "x": 2.450, "y": 2.560},
            {"series": "class1", "x": 2.470, "y": 2.690}, {"series": "class1", "x": 2.420, "y": 2.620},
            {"series": "class1", "x": 2.580, "y": 2.450}, {"series": "class1", "x": 2.660, "y": 2.430},
            {"series": "class1", "x": 2.610, "y": 2.810}, {"series": "class1", "x": 2.680, "y": 2.800},
            {"series": "class1", "x": 2.800, "y": 2.540}, {"series": "class1", "x": 2.830, "y": 2.600},
            {"series": "class1", "x": 2.440, "y": 2.480}, {"series": "class1", "x": 2.500, "y": 2.440},
            {"series": "class1", "x": 2.563, "y": 2.826}, {"series": "class1", "x": 2.784, "y": 2.811},
            {"series": "class1", "x": 2.408, "y": 2.685}, {"series": "class1", "x": 2.397, "y": 2.583},
            {"series": "class1", "x": 2.406, "y": 2.518}, {"series": "class1", "x": 2.879, "y": 2.625},
            {"series": "class1", "x": 2.910, "y": 2.594}, {"series": "class1", "x": 2.825, "y": 2.533},
            {"series": "class1", "x": 2.707, "y": 2.409}, {"series": "class1", "x": 2.508, "y": 2.251},
            {"series": "class2", "x": 2.086, "y": 2.397}, {"series": "class2", "x": 2.108, "y": 2.423},
            {"series": "class2", "x": 2.100, "y": 2.340}, {"series": "class2", "x": 2.115, "y": 2.311},
            {"series": "class2", "x": 2.135, "y": 2.380}, {"series": "class2", "x": 2.145, "y": 2.376},
            {"series": "class2", "x": 2.140, "y": 2.340}, {"series": "class2", "x": 2.170, "y": 2.385},
            {"series": "class2", "x": 2.160, "y": 2.354}, {"series": "class2", "x": 2.175, "y": 2.340},
            {"series": "class2", "x": 2.165, "y": 2.319}, {"series": "class2", "x": 2.194, "y": 2.325},
            {"series": "class2", "x": 2.199, "y": 2.297}, {"series": "class2", "x": 2.204, "y": 2.276},
            {"series": "class2", "x": 2.219, "y": 2.343}, {"series": "class2", "x": 2.234, "y": 2.257},
            {"series": "class2", "x": 2.259, "y": 2.319}, {"series": "class2", "x": 2.274, "y": 2.319},
            {"series": "class2", "x": 2.288, "y": 2.314}, {"series": "class2", "x": 2.264, "y": 2.261},
            {"series": "class2", "x": 2.269, "y": 2.229}, {"series": "class2", "x": 2.278, "y": 2.268},
            {"series": "class2", "x": 2.293, "y": 2.276}, {"series": "class2", "x": 2.346, "y": 2.290},
            {"series": "class2", "x": 2.338, "y": 2.247}, {"series": "class2", "x": 2.353, "y": 2.240},
            {"series": "class2", "x": 2.363, "y": 2.276}, {"series": "class2", "x": 2.368, "y": 2.240},
            {"series": "class2", "x": 2.343, "y": 2.218}, {"series": "class2", "x": 2.358, "y": 2.211},
            {"series": "class2", "x": 2.373, "y": 2.197}, {"series": "class2", "x": 2.363, "y": 2.169},
            {"series": "class2", "x": 2.378, "y": 2.161}, {"series": "class2", "x": 2.397, "y": 2.175},
            {"series": "class2", "x": 2.402, "y": 2.151}, {"series": "class2", "x": 2.407, "y": 2.247},
            {"series": "class2", "x": 2.437, "y": 2.233}, {"series": "class2", "x": 2.417, "y": 2.197},
            {"series": "class2", "x": 2.447, "y": 2.190}, {"series": "class2", "x": 2.432, "y": 2.183},
            {"series": "class2", "x": 2.472, "y": 2.143}, {"series": "class2", "x": 2.491, "y": 2.118},
            {"series": "class2", "x": 2.507, "y": 2.147}, {"series": "class2", "x": 2.497, "y": 2.137},
            {"series": "Support Vectors", "x": 1.749, "y": 2.169}, {"series": "Support Vectors", "x": 1.786, "y": 2.180},
            {"series": "Support Vectors", "x": 1.807, "y": 2.171}, {"series": "Support Vectors", "x": 1.769, "y": 2.121},
            {"series": "Support Vectors", "x": 1.954, "y": 2.243}, {"series": "Support Vectors", "x": 1.990, "y": 2.229},
            {"series": "Support Vectors", "x": 1.747, "y": 1.929}, {"series": "Support Vectors", "x": 2.208, "y": 1.993},
            {"series": "Support Vectors", "x": 2.309, "y": 2.097}, {"series": "Support Vectors", "x": 2.095, "y": 1.793},
            {"series": "Support Vectors", "x": 2.219, "y": 1.800}, {"series": "Support Vectors", "x": 1.876, "y": 1.778},
            {"series": "Support Vectors", "x": 1.876, "y": 1.726},
            {"series": "sv_upper", "x": 2.563, "y": 2.826}, {"series": "sv_upper", "x": 2.784, "y": 2.811},
            {"series": "sv_upper", "x": 2.408, "y": 2.685}, {"series": "sv_upper", "x": 2.397, "y": 2.583},
            {"series": "sv_upper", "x": 2.406, "y": 2.518}, {"series": "sv_upper", "x": 2.879, "y": 2.625},
            {"series": "sv_upper", "x": 2.910, "y": 2.594}, {"series": "sv_upper", "x": 2.825, "y": 2.533},
            {"series": "sv_upper", "x": 2.707, "y": 2.409}, {"series": "sv_upper", "x": 2.508, "y": 2.251}
          ]},
          "mark": {"type": "point", "filled": false, "opacity": 1},
          "encoding": {
            "x": {"field": "x", "type": "quantitative",
                  "scale": {"domain": [1.68, 2.956], "nice": false, "zero": false},
                  "axis": {"values": [1.8, 2, 2.2, 2.4, 2.6, 2.8], "format": "~g", "labelFont": "Liberation Serif", "labelFontSize": 27,
                           "title": ["dimension1", "(b)"], "titleY": 47}},
            "y": {"field": "y", "type": "quantitative",
                  "scale": {"domain": [1.596, 2.976], "nice": false, "zero": false},
                  "axis": {"values": [1.6, 1.8, 2, 2.2, 2.4, 2.6, 2.8], "format": "~g", "labelFont": "Liberation Serif", "labelFontSize": 27,
                           "title": "dimension2", "titleX": -62, "titleY": 164}},
            "color": {"field": "series", "type": "nominal",
                      "scale": {"domain": ["class1", "class2", "Support Vectors", "sv_upper"],
                                "range": ["#ff0000", "#0000ff", "#0072bd", "#d95319"]},
                      "legend": {"title": null, "values": ["class1", "class2", "Support Vectors"], "symbolStrokeWidth": 1.9}},
            "shape": {"field": "series", "type": "nominal",
                      "scale": {"domain": ["class1", "class2", "Support Vectors", "sv_upper"],
                                "range": ["M-1,0L1,0M0,-1L0,1", "M0,-1L0,1M-1,0L1,0M-0.7,-0.7L0.7,0.7M-0.7,0.7L0.7,-0.7", "circle", "circle"]},
                      "legend": {"title": null, "values": ["class1", "class2", "Support Vectors"], "symbolStrokeWidth": 1.9}},
            "size": {"condition": [
                       {"test": "datum.series === 'class2'", "value": 72},
                       {"test": "datum.series === 'Support Vectors' || datum.series === 'sv_upper'", "value": 64}],
                     "value": 81},
            "strokeWidth": {"condition": {"test": "datum.series === 'Support Vectors' || datum.series === 'sv_upper'", "value": 3.6},
                            "value": 1.3}
          }
        },
        {
          "data": {"values": [{"x": 1.966, "y": 2.005}]},
          "mark": {"type": "point", "shape": "M-1,0A1,0.66,0,1,1,1,0A1,0.66,0,1,1,-1,0Z", "size": 26115,
                   "filled": false, "stroke": "#000000", "strokeWidth": 3.3, "opacity": 1},
          "encoding": {"x": {"field": "x", "type": "quantitative"}, "y": {"field": "y", "type": "quantitative"}}
        },
        {
          "data": {"values": [{"x": 2.6135, "y": 2.5955}]},
          "mark": {"type": "point", "shape": "M-1,0A1,0.664,0,1,1,1,0A1,0.664,0,1,1,-1,0Z", "size": 22983,
                   "filled": false, "stroke": "#000000", "strokeWidth": 3.3, "opacity": 1},
          "encoding": {"x": {"field": "x", "type": "quantitative"}, "y": {"field": "y", "type": "quantitative"}}
        }
      ]
    }
  ]
}
